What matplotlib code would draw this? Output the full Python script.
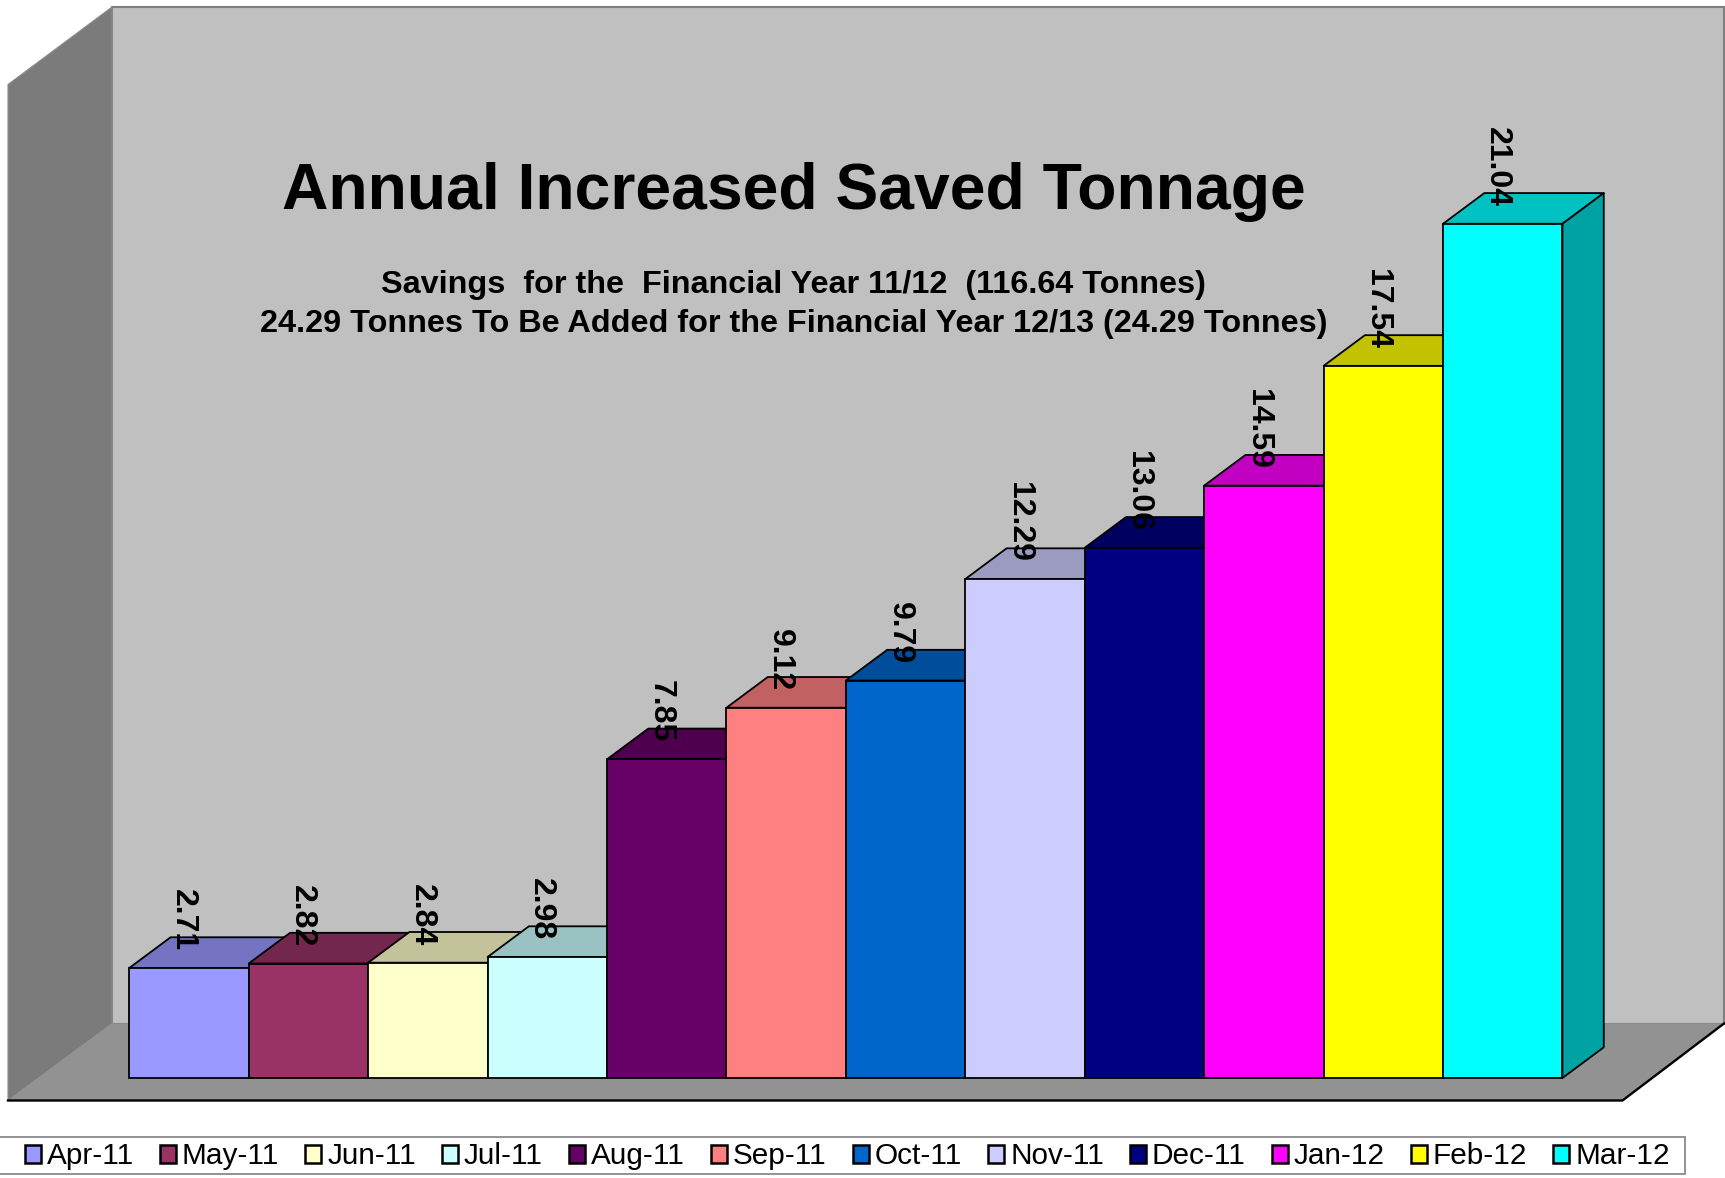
# Annual increased saved tonnage, 3D look column chart
import matplotlib
matplotlib.use("Agg")
import matplotlib.pyplot as plt
from matplotlib.patches import Polygon, Rectangle

plt.rcParams['font.family'] = ['Liberation Sans', 'DejaVu Sans']

months = ["Apr-11", "May-11", "Jun-11", "Jul-11", "Aug-11", "Sep-11",
          "Oct-11", "Nov-11", "Dec-11", "Jan-12", "Feb-12", "Mar-12"]
tonnes = [2.71, 2.82, 2.84, 2.98, 7.85, 9.12, 9.79, 12.29, 13.06, 14.59, 17.54, 21.04]
colors = ["#9999FF", "#993366", "#FFFFCC", "#CCFFFF", "#660066", "#FF8080",
          "#0066CC", "#CCCCFF", "#000080", "#FF00FF", "#FFFF00", "#00FFFF"]

title = "Annual Increased Saved Tonnage"
sub1 = "Savings  for the  Financial Year 11/12  (116.64 Tonnes)"
sub2 = "24.29 Tonnes To Be Added for the Financial Year 12/13 (24.29 Tonnes)"

W, H = 1725, 1178
# layout of the plot, in pixels
X0, BASE = 129.3, 1078.0
PX_X, PX_Y = 119.43, 40.6
DX, DY = 41.3 / PX_X, 30.7 / PX_Y
EDGE = 1.3


def px(x, y):
    return ((x - X0) / PX_X, (BASE - y) / PX_Y)


def shade(col, f):
    rgb = matplotlib.colors.to_rgb(col)
    return tuple(c * f for c in rgb)


fig = plt.figure(figsize=(W / 100, H / 100), dpi=100)
ax = fig.add_axes([0, 0, 1, 1])
ax.set_xlim(-X0 / PX_X, (W - X0) / PX_X)
ax.set_ylim((BASE - H) / PX_Y, BASE / PX_Y)
ax.axis("off")

# Walls and floor
back = [(112, 7), (1724, 7), (1724, 1023.5), (112, 1023.5)]
left = [(8, 84.5), (112, 7), (112, 1023.5), (8, 1100.5)]
floor = [(8, 1100.5), (112, 1023.5), (1724, 1023.5), (1622.5, 1100.5)]
ax.add_patch(Polygon([px(*p) for p in back], fc="#C0C0C0", ec="#808080", lw=1.5, zorder=1))
ax.add_patch(Polygon([px(*p) for p in left], fc="#7B7B7B", ec="#8C8C8C", lw=0.8, zorder=1))
ax.add_patch(Polygon([px(*p) for p in floor], fc="#929292", ec="none", zorder=1))
edge = [px(8, 1100.5), px(1622.5, 1100.5), px(1724, 1023.5)]
ax.plot(*zip(*edge), color="black", lw=1.7, zorder=1.5, solid_joinstyle="miter")

# Bars, left to right so every bar covers the depth of the one before
for i, (v, c, m) in enumerate(zip(tonnes, colors, months)):
    z = 2 + i * 0.1
    top = [(i, v), (i + DX, v + DY), (i + 1 + DX, v + DY), (i + 1, v)]
    side = [(i + 1, 0), (i + 1 + DX, DY), (i + 1 + DX, v + DY), (i + 1, v)]
    ax.add_patch(Polygon(top, fc=shade(c, 0.76), ec="black", lw=EDGE, zorder=z, joinstyle="round"))
    ax.add_patch(Polygon(side, fc=shade(c, 0.64), ec="black", lw=EDGE, zorder=z, joinstyle="round"))
    ax.bar(i, v, width=1, align="edge", color=c, edgecolor="black", linewidth=EDGE,
           label=m, zorder=z + 0.01)

# Value labels
for i, v in enumerate(tonnes):
    ax.annotate("%.2f" % v, xy=(i + 0.5, v), xytext=(-4.4, 12), textcoords="offset points",
                rotation=-90, ha="center", va="bottom", fontsize=23, fontweight="bold",
                color="black", zorder=10)

fig.text(794 / W, 1 - 192.5 / H, title, ha="center", va="center", fontsize=46.3,
         fontweight="bold", color="black", zorder=11)
fig.text(793 / W, 1 - 285 / H, sub1, ha="center", va="center", fontsize=23.3,
         fontweight="bold", color="black", zorder=11)
fig.text(793.5 / W, 1 - 324 / H, sub2, ha="center", va="center", fontsize=23.3,
         fontweight="bold", color="black", zorder=11)

# Legend box reaches past the left edge of the picture
ax.add_patch(Rectangle(px(-3, 1174), 1688 / PX_X, 37.3 / PX_Y, fc="white", ec="#808080",
                       lw=1.2, zorder=11))
leg = ax.legend(loc="center left", bbox_to_anchor=(24.5 / W, 1 - 1156.5 / H),
                bbox_transform=fig.transFigure, ncol=12, fontsize=21.4, frameon=False,
                handlelength=0.54, handleheight=0.54, handletextpad=0.2, columnspacing=0.876,
                borderpad=0, borderaxespad=0)
leg.set_zorder(12)
for h in leg.get_patches():
    h.set_linewidth(1.8)

fig.savefig("out.png", dpi=100)
